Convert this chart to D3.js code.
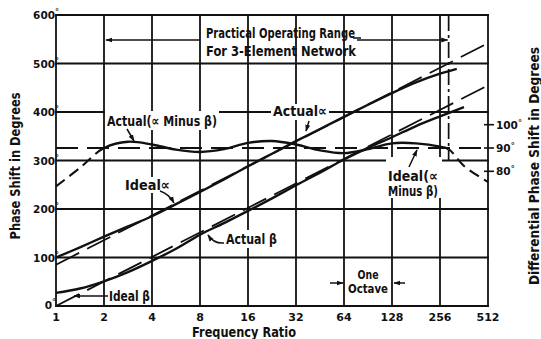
<!DOCTYPE html>
<html><head><meta charset="utf-8">
<script src="https://cdn.jsdelivr.net/npm/d3@7"></script>
<style>
html,body{margin:0;padding:0;background:#fff;}
svg{display:block;}
text{font-family:"DejaVu Sans","Liberation Sans",sans-serif;fill:#111;font-weight:bold;}
</style></head><body>
<svg id="c" width="541" height="339"></svg>
<script>
// ---------- data ----------
const freqTicks=[1,2,4,8,16,32,64,128,256,512];
const freqLabels=["1","2","4","8","16","32","64","128","256","512"];
const phaseTicks=[0,100,200,300,400,500,600];
const diffTicks=[80,90,100];
const idealFreq=[1,512];
const idealAlpha=[85,542];
const idealBeta=[0,455];
const idealDiff=[90,90];
const alphaFreq=[1,1.414,2,2.828,4,5.657,8,11.31,16,22.63,32,45.25,64,90.51,128,181,256,326];
const alphaVals=[100,121,143,164,185,210,235,261,288,314,340,365,390,415,439,461,479,489];
const betaFreq=[1,1.414,2,2.828,4,5.657,8,11.31,16,22.63,32,45.25,64,90.51,128,181,256,362];
const betaVals=[27,36,51,70,93,118,147,171,196,222,249,275,302,326,348,371,391,410];
const diffFreq=[1,1.414,2,2.828,4,5.657,8,11.31,16,22.63,32,45.25,64,90.51,128,181,256,290,362,512];
const diffVals=[73.5,81.5,90,92.7,91.5,89.3,88.3,89.5,92.2,93.0,91.5,89,87.8,89.5,92,92,90.6,89.5,82.3,75.4];
const rangeLo=2, rangeHi=290;

// ---------- scales ----------
const L=56,R=488,T=15,B=306;
const x=d3.scaleLog().base(2).domain([1,512]).range([L,R]);
const y=d3.scaleLinear().domain([0,600]).range([B,T]);
const yR=d3.scaleLinear().domain([80,100]).range([171.3,124.7]);

const svg=d3.select("#c");
svg.append("rect").attr("width",541).attr("height",339).attr("fill","#fff");
const defs=svg.append("defs");
defs.append("marker").attr("id","ah").attr("viewBox","0 0 10 10").attr("refX",9).attr("refY",5)
  .attr("markerWidth",7).attr("markerHeight",7).attr("orient","auto-start-reverse").attr("markerUnits","userSpaceOnUse")
  .append("path").attr("d","M0,1.5 L10,5 L0,8.5 Z").attr("fill","#111");
defs.append("clipPath").attr("id","inRange").append("rect")
  .attr("x",x(rangeLo)).attr("y",0).attr("width",x(rangeHi)-x(rangeLo)).attr("height",339);
const outClip=defs.append("clipPath").attr("id","outRange");
outClip.append("rect").attr("x",0).attr("y",0).attr("width",x(rangeLo)).attr("height",339);
outClip.append("rect").attr("x",x(rangeHi)).attr("y",0).attr("width",541-x(rangeHi)).attr("height",339);

const ink="#111";
// condensed text helper
function txt(g,str,px,py,w,size,anchor){
  const t=g.append("text").attr("x",px).attr("y",py).attr("font-size",size)
    .attr("text-anchor",anchor||"start").text(str);
  if(w) t.attr("textLength",w).attr("lengthAdjust","spacingAndGlyphs");
  return t;
}
// ---------- grid ----------
const grid=svg.append("g").attr("stroke",ink).attr("stroke-width",1.8);
grid.selectAll("line.v").data(freqTicks).join("line").attr("class","v")
  .attr("x1",d=>x(d)).attr("x2",d=>x(d)).attr("y1",y(600)).attr("y2",y(0));
grid.selectAll("line.h").data(phaseTicks).join("line").attr("class","h")
  .attr("x1",x(1)-1).attr("x2",x(512)+1).attr("y1",d=>y(d)).attr("y2",d=>y(d));

// white boxes behind labels (break the grid like the original)
const boxes=[[105,111,114,19],[271,104,58,16],[123,177,50,16],[222,230,57,18],[386,157,56,41],[347,266,42,30]];
svg.selectAll("rect.box").data(boxes).join("rect").attr("class","box")
  .attr("x",d=>d[0]).attr("y",d=>d[1]).attr("width",d=>d[2]).attr("height",d=>d[3]).attr("fill","#fff");

// ---------- axes labels ----------
const ax=svg.append("g");
freqTicks.forEach((f,i)=>txt(ax,freqLabels[i],x(f),321,null,11,"middle"));
phaseTicks.forEach(v=>{
  const xe=v===0?52:55, yb=v===0?309:y(v)+4;
  ax.append("text").attr("x",xe).attr("y",yb).attr("font-size",10.5).attr("text-anchor","end").text(v);
  ax.append("text").attr("x",xe).attr("y",yb-4).attr("font-size",8).text("°");
});
const rt=svg.append("g");
rt.selectAll("line").data(diffTicks).join("line").attr("stroke",ink).attr("stroke-width",1.6)
  .attr("x1",R-4).attr("x2",R+6).attr("y1",d=>yR(d)).attr("y2",d=>yR(d));
diffTicks.forEach(v=>{
  rt.append("text").attr("x",R+8).attr("y",yR(v)+4).attr("font-size",10.5).text(v)
    .append("tspan").attr("font-size",8).attr("dy",-3).text("°");
});

txt(svg,"Phase  Shift  in  Degrees",0,0,147,14,"middle").attr("transform","translate(20,166) rotate(-90)");
txt(svg,"Differential  Phase  Shift  in  Degrees",0,0,238,14,"middle").attr("transform","translate(539,166) rotate(-90)");
txt(svg,"Frequency  Ratio",244,337,104,14,"middle");

// ---------- curves ----------
const lineP=d3.line().x(d=>x(d[0])).y(d=>y(d[1])).curve(d3.curveCatmullRom.alpha(0.5));
const lineR=d3.line().x(d=>x(d[0])).y(d=>yR(d[1])).curve(d3.curveCatmullRom.alpha(0.5));
const zip=(a,b)=>a.map((v,i)=>[v,b[i]]);

const cg=svg.append("g").attr("fill","none").attr("stroke",ink);
cg.append("path").attr("d",lineP(zip(idealFreq,idealAlpha))).attr("stroke-width",1.8).attr("stroke-dasharray","26,9");
cg.append("path").attr("d",lineP(zip(idealFreq,idealBeta))).attr("stroke-width",1.8).attr("stroke-dasharray","26,9");
cg.append("path").attr("d",lineR(zip(idealFreq,idealDiff))).attr("stroke-width",1.8).attr("stroke-dasharray","22,9");
cg.append("path").attr("d",lineP(zip(alphaFreq,alphaVals))).attr("stroke-width",2.4);
cg.append("path").attr("d",lineP(zip(betaFreq,betaVals))).attr("stroke-width",2.4);
const dd=lineR(zip(diffFreq,diffVals));
cg.append("path").attr("d",dd).attr("stroke-width",2.4).attr("clip-path","url(#inRange)");
cg.append("path").attr("d",dd).attr("stroke-width",2.1).attr("stroke-dasharray","11,6").attr("clip-path","url(#outRange)");
// practical range boundary (dash-dot)
cg.append("line").attr("x1",x(rangeHi)).attr("x2",x(rangeHi)).attr("y1",y(600)).attr("y2",y(300))
  .attr("stroke-width",1.7).attr("stroke-dasharray","16,4,3,4");

// ---------- annotations ----------
const ag=svg.append("g").attr("fill","none").attr("stroke",ink).attr("stroke-width",1.5);
const arrow=(d)=>ag.append("path").attr("d",d).attr("marker-end","url(#ah)");
arrow(`M${x(8)},40 L${x(rangeLo)+2},40`);
arrow(`M357,40 L${x(rangeHi)-1},40`);
ag.append("line").attr("x1",353).attr("x2",361).attr("y1",38).attr("y2",38);
arrow("M127,129 L134,141");
arrow("M309,121 L306,131");
arrow("M160,191 Q169,194 174,203");
arrow("M108,296 L74,296");
arrow("M224,243 Q214,244 208,235");
arrow("M330,283 L343,283");
arrow("M405,283 L394,283");
arrow("M409,167 L417,150");

const tg=svg.append("g");
const fs=14.5;
txt(tg,"Practical Operating Range",206,38,149,fs);
txt(tg,"For  3-Element  Network",206,56,150,fs);
txt(tg,"Actual(∝ Minus β)",107,126,110,fs);
txt(tg,"Actual∝",273,116,54,fs);
txt(tg,"Ideal∝",125,190,45,fs);
txt(tg,"Ideal β",109,301,41,fs);
txt(tg,"Actual β",226,244,51,fs);
txt(tg,"Ideal(∝",388,181,50,fs);
txt(tg,"Minus β)",388,196,50,fs);
txt(tg,"One",368,279,21,12.5,"middle");
txt(tg,"Octave",368,293,40,12.5,"middle");
</script></body></html>
